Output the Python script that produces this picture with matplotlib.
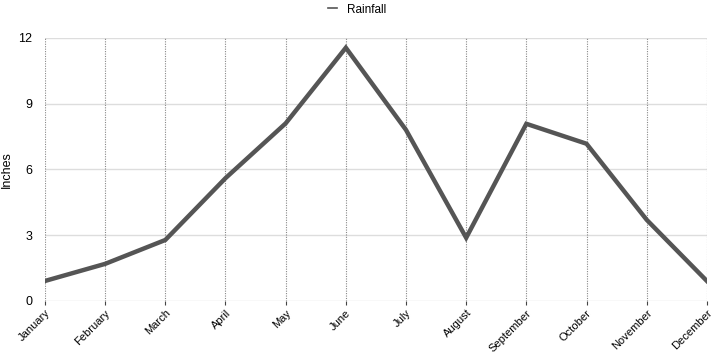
import matplotlib.pyplot as plt
from matplotlib.lines import Line2D

# --- DATA ---
months = ['January', 'February', 'March', 'April', 'May', 'June', 'July',
          'August', 'September', 'October', 'November', 'December']
rainfall = [0.91, 1.69, 2.78, 5.6, 8.1, 11.55, 7.8, 2.88, 8.08, 7.17, 3.7, 0.91]
y_ticks = [0, 3, 6, 9, 12]

plt.rcParams['font.family'] = ['Liberation Sans', 'DejaVu Sans']

fig = plt.figure(figsize=(7.14, 3.54), dpi=100)
ax = fig.add_axes([0.063, 0.150, 0.927, 0.743])

x = range(len(months))
ax.plot(x, rainfall, color='#555555', linewidth=3.2, solid_joinstyle='miter', zorder=3)

ax.set_xlim(0, len(months) - 1)
ax.set_ylim(0, 12)
ax.set_yticks(y_ticks)
ax.set_xticks(list(x))
ax.set_xticklabels(months, rotation=45, ha='right', rotation_mode='anchor', fontsize=8)
ax.tick_params(axis='y', length=0, labelsize=9, pad=9)
ax.tick_params(axis='x', length=3, color='#444444', pad=2)

# grid: solid horizontal, dotted vertical
for yv in y_ticks:
    ax.axhline(yv, color='#dddddd', linewidth=1, zorder=1)
for xv in x:
    ax.axvline(xv, color='#888888', linewidth=0.8, linestyle=(0, (1, 1.2)), zorder=1)

for s in ax.spines.values():
    s.set_visible(False)

ax.set_ylabel('Inches', fontsize=9, labelpad=4)

handle = Line2D([], [], color='#555555', linewidth=1.2)
fig.legend([handle], ['Rainfall'], loc='upper center', bbox_to_anchor=(0.5, 1.02),
           frameon=False, fontsize=8.5, handlelength=0.8, handletextpad=0.8)

fig.savefig('out.png', dpi=100)
